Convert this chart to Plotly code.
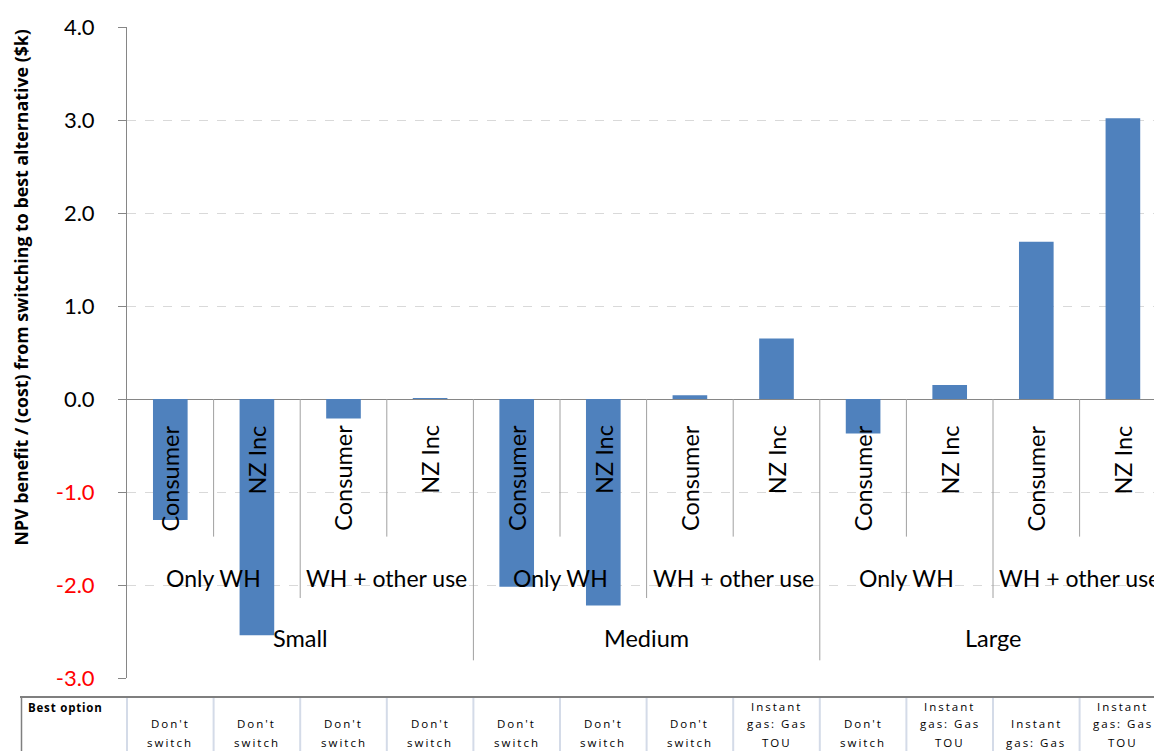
import plotly.graph_objects as go

# ---------------- data ----------------
sizes = ["Small", "Medium", "Large"]
uses = ["Only WH", "WH + other use"]
perspectives = ["Consumer", "NZ Inc"]
npv_values = [-1.30, -2.54, -0.21, 0.01,
              -2.02, -2.22, 0.04, 0.65,
              -0.37, 0.15, 1.69, 3.02]
best_option = [
    ["Don't", "switch"], ["Don't", "switch"], ["Don't", "switch"], ["Don't", "switch"],
    ["Don't", "switch"], ["Don't", "switch"], ["Don't", "switch"], ["Instant", "gas: Gas", "TOU"],
    ["Don't", "switch"], ["Instant", "gas: Gas", "TOU"], ["Instant", "gas: Gas"], ["Instant", "gas: Gas", "TOU"],
]
y_ticks = [4.0, 3.0, 2.0, 1.0, 0.0, -1.0, -2.0, -3.0]
y_title = "NPV benefit / (cost) from switching to best alternative ($k)"
table_header = "Best option"

# ---------------- layout helpers ----------------
OFF = 8                      # page body margin
W, H = 1162, 751
L, R, T, B = 119, 0, 19, 81
plot_h = H - T - B
plot_w = W - L - R
n = len(npv_values)
x_idx = list(range(n))
x_range = [-0.5, -0.5 + plot_w / 86.6]

def py(p):  # reference-pixel y -> paper y
    return (H - B - (p - OFF)) / plot_h

def px(p):  # reference-pixel x -> paper x
    return (p - OFF - L) / plot_w

def xpaper(xv):  # data x -> paper x
    return (xv - x_range[0]) / (x_range[1] - x_range[0])

FONT = "Lato, Calibri, Arial, sans-serif"
TFONT = "Open Sans, Arial, sans-serif"
BAR = "#4f81bd"
AX = "#868686"
SEP = "#a0a0a0"

fig = go.Figure()
fig.add_trace(go.Bar(x=x_idx, y=npv_values, width=0.4, marker=dict(color=BAR, line=dict(width=0)),
                     showlegend=False, hoverinfo="y"))

ticktext = [(f'<span style="color:#ff0000">{v:.1f}</span>' if v < 0 else f"{v:.1f}") for v in y_ticks]

annotations = []
shapes = []

# level-1 labels (rotated)
for i in range(n):
    annotations.append(dict(x=i, y=-0.26, xref="x", yref="y", text=perspectives[i % 2],
                            textangle=-90, showarrow=False, xanchor="center", yanchor="top",
                            font=dict(family=FONT, size=23.5, color="black")))
# level-2 and level-3 labels
for s in range(len(sizes)):
    for u in range(len(uses)):
        annotations.append(dict(x=4 * s + 2 * u + 0.5, y=-1.925, xref="x", yref="y", text=uses[u],
                                showarrow=False, xanchor="center", yanchor="middle",
                                font=dict(family=FONT, size=23, color="black")))
    annotations.append(dict(x=4 * s + 1.5, y=-2.57, xref="x", yref="y", text=sizes[s],
                            showarrow=False, xanchor="center", yanchor="middle",
                            font=dict(family=FONT, size=23.5, color="black")))

# separators below the zero line
for b in range(1, n):
    if b % 4 == 0:
        y1 = -2.81
    elif b % 2 == 0:
        y1 = -2.14
    else:
        y1 = -1.48
    shapes.append(dict(type="line", xref="x", yref="y", x0=b - 0.5, x1=b - 0.5, y0=0, y1=y1,
                       line=dict(color=SEP, width=1)))

# y title
annotations.append(dict(x=px(20.5), y=py(288), xref="paper", yref="paper", text=f"<b>{y_title}</b>",
                        textangle=-90, showarrow=False, xanchor="center", yanchor="middle",
                        font=dict(family=TFONT, size=17.8, color="black")))

# ---------------- table ----------------
t_top = 697
shapes.append(dict(type="line", xref="paper", yref="paper", x0=px(20), x1=1, y0=py(t_top), y1=py(t_top),
                   line=dict(color="#7f7f7f", width=2)))
shapes.append(dict(type="line", xref="paper", yref="paper", x0=px(21.5), x1=px(21.5), y0=py(t_top), y1=py(H + 10),
                   line=dict(color="#7f7f7f", width=1.5)))
for b in range(n):
    xp = xpaper(b - 0.5)
    shapes.append(dict(type="line", xref="paper", yref="paper", x0=xp, x1=xp, y0=py(t_top + 1), y1=py(H + 10),
                       line=dict(color="#d4dbe8", width=2)))
annotations.append(dict(x=px(26), y=py(707), xref="paper", yref="paper",
                        text=f'<span style="letter-spacing:0.8px"><b>{table_header}</b></span>',
                        showarrow=False, xanchor="left", yanchor="middle",
                        font=dict(family=TFONT, size=11.5, color="black")))
line_y = [742, 723, 706]
for i, lines in enumerate(best_option):
    for k, txt in enumerate(reversed(lines)):
        annotations.append(dict(x=xpaper(i), y=py(line_y[k]), xref="paper", yref="paper",
                                text=f'<span style="letter-spacing:2px">{txt}</span>',
                                showarrow=False, xanchor="center", yanchor="middle",
                                font=dict(family=TFONT, size=11.5, color="black")))

fig.update_layout(
    width=W, height=H,
    margin=dict(l=L, r=R, t=T, b=B, pad=0),
    paper_bgcolor="white", plot_bgcolor="white",
    showlegend=False,
    xaxis=dict(range=x_range, showticklabels=False, showgrid=False, zeroline=False,
               showline=False, ticks=""),
    yaxis=dict(range=[-3, 4], tickvals=y_ticks, ticktext=ticktext, ticks="outside", ticklen=8,
               tickcolor=AX, showline=True, linecolor=AX, linewidth=1,
               showgrid=True, gridcolor="#d9d9d9", griddash="dash", gridwidth=1,
               zeroline=True, zerolinecolor=AX, zerolinewidth=1,
               ticklabelstandoff=19,
               tickfont=dict(family=FONT, size=22, color="black")),
    annotations=annotations,
    shapes=shapes,
)

fig.write_html("out.html")
